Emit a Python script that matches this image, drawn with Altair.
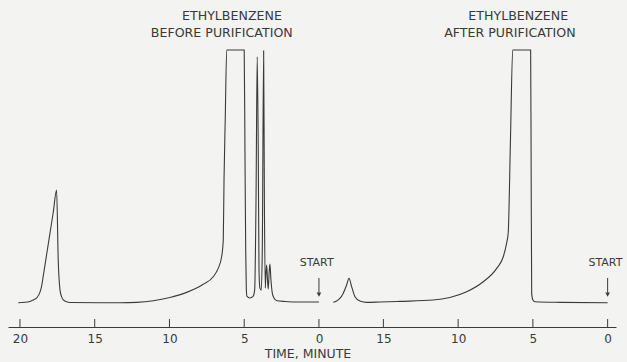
import altair as alt
import pandas as pd

# ---- Data (minutes, relative pen deflection; 100 = off-scale plateau)
before_min = [20.11, 19.33, 19.11, 18.88, 18.66, 18.55, 18.44, 18.21, 17.99, 17.77, 17.55, 17.44, 17.32,
              17.21, 17.10, 16.88, 16.66, 14.65, 13.31, 12.19, 11.08, 9.97, 8.85, 7.74, 7.07, 6.74,
              6.51, 6.40, 6.35, 6.27, 6.17, 5.00, 4.95, 4.90, 4.86, 4.82, 4.62, 4.41, 4.30, 4.21,
              4.13, 4.06, 4.01, 3.95, 3.86, 3.79, 3.70, 3.65, 3.59, 3.55, 3.50, 3.44, 3.39, 3.33,
              3.28, 3.21, 3.12, 3.01, 2.81, 2.27, 1.27, 0.00]
before_sig = [0.0, 0.5, 1.1, 1.9, 4.2, 6.6, 10.6, 19.3, 27.6, 35.9, 44.6, 16.9, 5.0,
              2.3, 1.1, 0.4, 0.1, 0.0, 0.0, 0.16, 0.8, 2.1, 4.1, 7.3, 10.3, 13.6,
              18.2, 24.8, 48.6, 72.3, 100.0, 100.0, 60.4, 20.9, 5.8, 2.6, 1.9, 2.5, 5.0, 40.6,
              97.3, 60.4, 12.9, 5.8, 5.0, 20.9, 99.7, 40.6, 5.8, 11.0, 14.9, 9.0, 5.4, 12.1,
              15.3, 9.0, 3.8, 1.9, 0.8, 0.5, 0.3, 0.3]

after_min = [18.35, 18.13, 17.91, 17.69, 17.46, 17.30, 17.12, 16.90, 16.57, 16.12, 15.23, 13.89,
             11.67, 10.55, 9.43, 8.32, 7.42, 6.98, 6.76, 6.65, 6.50, 6.35, 5.15, 5.12, 5.08,
             5.00, 4.86, 3.19, 0.00]
after_sig = [0.16, 0.7, 1.7, 3.7, 7.0, 9.7, 6.3, 2.4, 0.7, 0.16, 0.3, 0.55,
             1.07, 2.1, 4.35, 8.3, 13.6, 18.2, 23.5, 27.6, 64.4, 100.0, 100.0, 60.4, 3.7,
             1.07, 0.4, 0.16, 0.0]

before_ticks = [20, 15, 10, 5, 0]
after_ticks = [15, 10, 5, 0]

labels_text = ["ETHYLBENZENE", "BEFORE PURIFICATION", "ETHYLBENZENE", "AFTER PURIFICATION", "START", "START"]
labels_run = ["before", "before", "after", "after", "before", "after"]
labels_min = [5.82, 6.50, 5.98, 6.54, 0.15, 0.15]
labels_sig = [113.5, 106.6, 113.5, 106.6, 15.7, 15.7]

# ---- Placement of the two traces on one shared time axis (right-to-left time)
ORIGIN = {"before": 20.0, "after": 39.31}
X_DOMAIN = [-0.8, 39.87]
Y_DOMAIN = [-9.6, 119.8]
INK = "#3a3a3a"
FONT = "DejaVu Sans"


def pos(run, t):
    return ORIGIN[run] - t


trace = pd.DataFrame(
    [{"run": "before", "u": pos("before", t), "s": s} for t, s in zip(before_min, before_sig)]
    + [{"run": "after", "u": pos("after", t), "s": s} for t, s in zip(after_min, after_sig)]
)

tick_u = [pos("before", t) for t in before_ticks] + [pos("after", t) for t in after_ticks]
ticks = pd.DataFrame({"u": tick_u, "y0": Y_DOMAIN[0], "y1": -6.45})

arrows = pd.DataFrame({"u": [pos("before", 0), pos("after", 0)], "y0": 9.8, "y1": 4.0, "tip": 3.2})

texts = pd.DataFrame({
    "text": labels_text,
    "u": [pos(r, t) for r, t in zip(labels_run, labels_min)],
    "s": labels_sig,
    "size": [12.6, 12.6, 12.6, 12.6, 11, 11],
})

xscale = alt.Scale(domain=X_DOMAIN, nice=False, zero=False)
yscale = alt.Scale(domain=Y_DOMAIN, nice=False, zero=False)

label_expr = (
    f"datum.value < {ORIGIN['before'] + 0.5} ? format({ORIGIN['before']} - datum.value, '.0f')"
    f" : format({ORIGIN['after']} - datum.value, '.0f')"
)

lines = alt.Chart(trace).mark_line(color=INK, strokeWidth=1.1, interpolate="monotone").encode(
    x=alt.X("u:Q", scale=xscale, axis=alt.Axis(
        values=tick_u, labelExpr=label_expr, title="TIME, MINUTE",
        grid=False, ticks=False, tickSize=0, domainColor=INK, domainWidth=1,
        labelFont=FONT, labelFontSize=12, labelColor=INK, labelPadding=6,
        titleFont=FONT, titleFontSize=12.5, titleFontWeight="normal", titleColor=INK,
        titlePadding=3, titleX=299.5, titleAlign="center")),
    y=alt.Y("s:Q", scale=yscale, axis=None),
    detail="run:N",
)

tick_rules = alt.Chart(ticks).mark_rule(color=INK, strokeWidth=1).encode(
    x=alt.X("u:Q", scale=xscale), y=alt.Y("y0:Q", scale=yscale), y2="y1:Q"
)

arrow_shaft = alt.Chart(arrows).mark_rule(color=INK, strokeWidth=1).encode(
    x=alt.X("u:Q", scale=xscale), y=alt.Y("y0:Q", scale=yscale), y2="y1:Q"
)
arrow_head = alt.Chart(arrows).mark_point(shape="triangle-down", filled=True, color=INK, size=22, opacity=1).encode(
    x=alt.X("u:Q", scale=xscale), y=alt.Y("tip:Q", scale=yscale)
)

text_layer = alt.Chart(texts).mark_text(font=FONT, color=INK, align="center", baseline="middle").encode(
    x=alt.X("u:Q", scale=xscale), y=alt.Y("s:Q", scale=yscale), text="text:N",
    size=alt.Size("size:Q", scale=None, legend=None),
)

chart = alt.layer(lines, tick_rules, arrow_shaft, arrow_head, text_layer).properties(
    width=608, height=327,
    autosize=alt.AutoSizeParams(type="none"),
    padding={"left": 8, "top": 0, "right": 11, "bottom": 35},
    background="#f3f3f1",
).configure_view(stroke=None)

chart.save("out.html", embed_options={"renderer": "svg", "actions": False})
